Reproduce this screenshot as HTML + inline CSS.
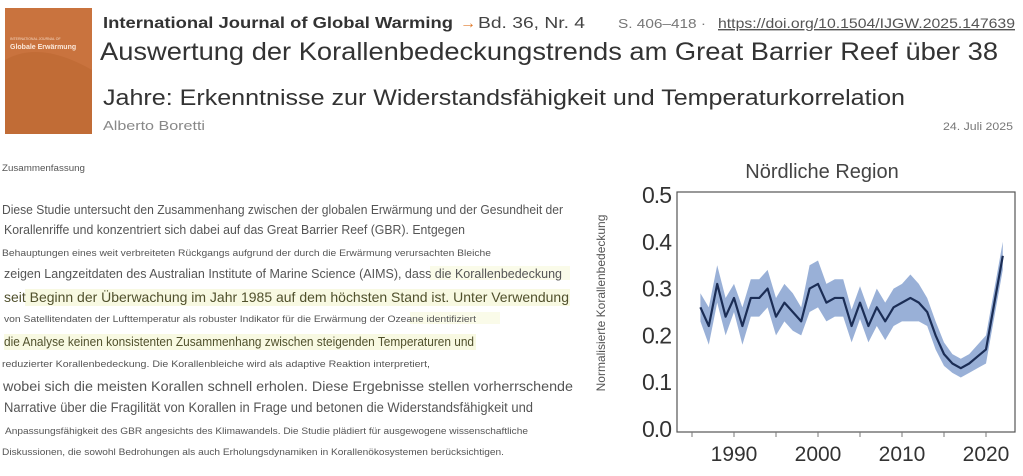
<!DOCTYPE html>
<html><head><meta charset="utf-8"><style>
html,body{margin:0;padding:0;background:#fff;}
svg{display:block;font-family:"Liberation Sans",sans-serif;}
</style></head><body>
<svg id="root" width="1023" height="476" viewBox="0 0 1023 476" xmlns="http://www.w3.org/2000/svg">
<g>
  <rect x="5" y="8" width="87" height="126" fill="#c9733e"/>
  <path d="M5 60 Q40 40 92 70 L92 134 L5 134 Z" fill="#bd6732" opacity="0.6"/>
  <text x="10" y="40" font-size="3.5" fill="#f3d6c0">INTERNATIONAL JOURNAL OF</text>
  <text x="10" y="49" font-size="7" font-weight="bold" fill="#fbe8da">Globale Erwärmung</text>
  <text x="103" y="28" font-size="16" font-weight="bold" fill="#333" textLength="350" lengthAdjust="spacingAndGlyphs">International Journal of Global Warming</text>
  <text x="460" y="28" font-size="16" fill="#e07b2c">→</text>
  <text x="478" y="28" font-size="16" fill="#444" textLength="107" lengthAdjust="spacingAndGlyphs">Bd. 36, Nr. 4</text>
  <text x="618" y="28" font-size="13" fill="#777" textLength="88" lengthAdjust="spacingAndGlyphs">S. 406–418  ·</text>
  <text x="718" y="28" font-size="14" fill="#555" text-decoration="underline" textLength="297" lengthAdjust="spacingAndGlyphs">https://doi.org/10.1504/IJGW.2025.147639</text>
  <text x="100" y="60" font-size="25" fill="#333" textLength="898" lengthAdjust="spacingAndGlyphs">Auswertung der Korallenbedeckungstrends am Great Barrier Reef über 38</text>
  <text x="103" y="105" font-size="22" fill="#333" textLength="802" lengthAdjust="spacingAndGlyphs">Jahre: Erkenntnisse zur Widerstandsfähigkeit und Temperaturkorrelation</text>
  <text x="103" y="130" font-size="13" fill="#888" textLength="102" lengthAdjust="spacingAndGlyphs">Alberto Boretti</text>
  <text x="943" y="130" font-size="11" fill="#777" textLength="70" lengthAdjust="spacingAndGlyphs">24. Juli 2025</text>
</g>
<g fill="#555">
  <rect x="430" y="266" width="140" height="14" fill="#fafbe9"/>
  <rect x="25" y="289" width="545" height="17" fill="#f8f9e2"/>
  <rect x="410" y="312" width="90" height="12" fill="#fafbe9"/>
  <rect x="4" y="334" width="472" height="16" fill="#f8f9e2"/>
  <text x="2" y="171" font-size="9" textLength="83" lengthAdjust="spacingAndGlyphs">Zusammenfassung</text>
  <text x="2" y="214" font-size="12.5" textLength="561" lengthAdjust="spacingAndGlyphs">Diese Studie untersucht den Zusammenhang zwischen der globalen Erwärmung und der Gesundheit der</text>
  <text x="4" y="234" font-size="13" textLength="461" lengthAdjust="spacingAndGlyphs">Korallenriffe und konzentriert sich dabei auf das Great Barrier Reef (GBR). Entgegen</text>
  <text x="2" y="256" font-size="9.5" textLength="489" lengthAdjust="spacingAndGlyphs">Behauptungen eines weit verbreiteten Rückgangs aufgrund der durch die Erwärmung verursachten Bleiche</text>
  <text x="4" y="278" font-size="13" textLength="558" lengthAdjust="spacingAndGlyphs">zeigen Langzeitdaten des Australian Institute of Marine Science (AIMS), dass die Korallenbedeckung</text>
  <text x="4" y="302" font-size="14" fill="#50502c" textLength="565" lengthAdjust="spacingAndGlyphs">seit Beginn der Überwachung im Jahr 1985 auf dem höchsten Stand ist. Unter Verwendung</text>
  <text x="4" y="322" font-size="9.5" textLength="472" lengthAdjust="spacingAndGlyphs">von Satellitendaten der Lufttemperatur als robuster Indikator für die Erwärmung der Ozeane identifiziert</text>
  <text x="4" y="346" font-size="12.5" fill="#50502c" textLength="470" lengthAdjust="spacingAndGlyphs">die Analyse keinen konsistenten Zusammenhang zwischen steigenden Temperaturen und</text>
  <text x="2" y="367" font-size="9.5" textLength="428" lengthAdjust="spacingAndGlyphs">reduzierter Korallenbedeckung. Die Korallenbleiche wird als adaptive Reaktion interpretiert,</text>
  <text x="3" y="391" font-size="14" textLength="570" lengthAdjust="spacingAndGlyphs">wobei sich die meisten Korallen schnell erholen. Diese Ergebnisse stellen vorherrschende</text>
  <text x="4" y="412" font-size="13.5" textLength="529" lengthAdjust="spacingAndGlyphs">Narrative über die Fragilität von Korallen in Frage und betonen die Widerstandsfähigkeit und</text>
  <text x="5" y="434" font-size="9.5" textLength="523" lengthAdjust="spacingAndGlyphs">Anpassungsfähigkeit des GBR angesichts des Klimawandels. Die Studie plädiert für ausgewogene wissenschaftliche</text>
  <text x="2" y="455" font-size="9.5" textLength="502" lengthAdjust="spacingAndGlyphs">Diskussionen, die sowohl Bedrohungen als auch Erholungsdynamiken in Korallenökosystemen berücksichtigen.</text>
</g>
<g id="chart">
  <text x="822" y="178" font-size="20" fill="#444" text-anchor="middle">Nördliche Region</text>
  <text transform="translate(605,303) rotate(-90)" font-size="12" fill="#555" text-anchor="middle">Normalisierte Korallenbedeckung</text>
  <g id="plot"></g>
</g>
</svg>
<script>
const years=[1986,1987,1988,1989,1990,1991,1992,1993,1994,1995,1996,1997,1998,1999,2000,2001,2002,2003,2004,2005,2006,2007,2008,2009,2010,2011,2012,2013,2014,2015,2016,2017,2018,2019,2020,2021,2022];
const cover=[0.26,0.22,0.31,0.24,0.28,0.22,0.28,0.28,0.30,0.24,0.27,0.25,0.23,0.30,0.31,0.27,0.28,0.28,0.22,0.27,0.22,0.26,0.23,0.26,0.27,0.28,0.27,0.25,0.20,0.16,0.14,0.13,0.14,0.155,0.17,0.27,0.37];
const errs=[0.03,0.04,0.04,0.04,0.03,0.04,0.04,0.04,0.04,0.04,0.04,0.04,0.03,0.05,0.05,0.04,0.04,0.04,0.035,0.035,0.035,0.04,0.04,0.04,0.04,0.05,0.04,0.03,0.03,0.025,0.02,0.02,0.02,0.025,0.03,0.03,0.03];
const yTicks=[0.0,0.1,0.2,0.3,0.4,0.5];
const xTicks=[1990,2000,2010,2020];
const xMinor=[1985,1995,2005,2015];
const NS='http://www.w3.org/2000/svg';
const X=y=>734+(y-1990)*8.4;
const Y=v=>429-v*468;
const plot=document.getElementById('plot');
function mk(t,a){const e=document.createElementNS(NS,t);for(const k in a)e.setAttribute(k,a[k]);plot.appendChild(e);return e;}
let up=years.map((y,i)=>X(y)+','+Y(cover[i]+errs[i]));
let lo=years.map((y,i)=>X(y)+','+Y(cover[i]-errs[i])).reverse();
const band=mk('polygon',{points:up.concat(lo).join(' '),fill:'#7f9ccd',opacity:'0.8'});


const line=mk('polyline',{points:years.map((y,i)=>X(y)+','+Y(cover[i])).join(' '),fill:'none',stroke:'#1b2d55','stroke-width':'2.2','stroke-linejoin':'round'});


const box=mk('rect',{x:677,y:192,width:338,height:240,fill:'none',stroke:'#555','stroke-width':'1.2'});


yTicks.forEach(v=>{
  const t=mk('text',{x:671,y:Y(v)+8,'font-size':'23','text-anchor':'end',fill:'#333','letter-spacing':'-1'});
  t.textContent=v.toFixed(1);
  
  
});
xTicks.concat(xMinor).forEach(y=>{
  const l=mk('line',{x1:X(y),x2:X(y),y1:432,y2:437,stroke:'#777','stroke-width':'1'});
  
  
});
xTicks.forEach(y=>{
  const t=mk('text',{x:X(y),y:461,'font-size':'21','text-anchor':'middle',fill:'#333'});
  t.textContent=y;
  
  
});
</script>
</body></html>
